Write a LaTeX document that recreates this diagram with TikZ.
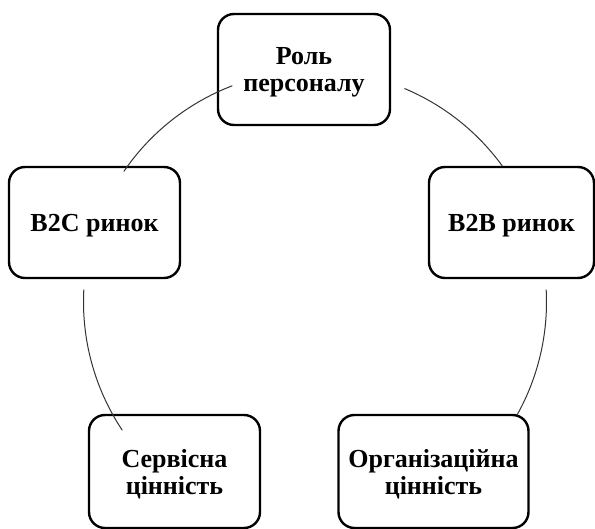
\documentclass[tikz,border=0pt]{standalone}
\usepackage{fontspec}
\setmainfont{Liberation Serif}
\usetikzlibrary{calc}
\begin{document}
\begin{tikzpicture}[x=0.5pt, y=-0.5pt, line join=round, line cap=round,
		block/.style={draw, line width=1.2pt, rounded corners=8pt, align=center, inner sep=0pt, text depth=0pt, font=\bfseries\fontsize{13}{13.5}\selectfont},
		ring/.style={line width=0.5pt, black!80}]
	\useasboundingbox (0,0) rectangle (595,529);
	\node[block, minimum width=86pt, minimum height=55.5pt] (rol) at (304,69.5) {Роль\\персоналу};
	\node[block, minimum width=85.5pt, minimum height=55.5pt] (btoc) at (94.5,222.5) {B2C ринок};
	\node[block, minimum width=82.5pt, minimum height=55.5pt] (btob) at (511.5,222.5) {B2B ринок};
	\node[block, minimum width=85.5pt, minimum height=56.5pt] (serv) at (174.5,471.5) {Сервісна\\цінність};
	\node[block, minimum width=95pt, minimum height=56.5pt] (org) at (433.5,471.5) {Організаційна\\цінність};
	% ring between the blocks
	\coordinate (O) at (315,302);
	\foreach \a/\b in {-111/-145.6, -67.2/-36, 183/146.4, -3/29.2}
		\draw[ring] ($(O)+(\a:231.5)$) arc[start angle=\a, end angle=\b, radius=231.5];
\end{tikzpicture}
\end{document}
